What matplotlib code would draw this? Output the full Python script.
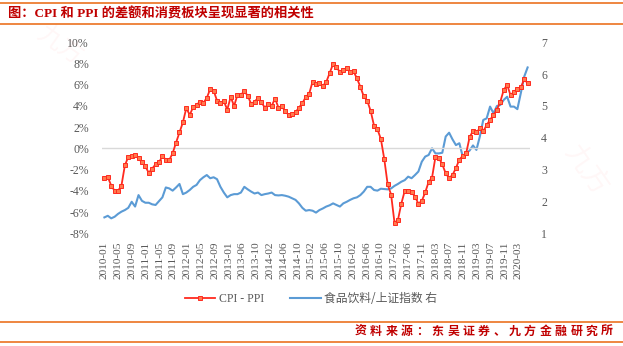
import matplotlib
matplotlib.use("Agg")
import matplotlib.pyplot as plt
import numpy as np
from matplotlib.lines import Line2D

# ---------------- data ----------------
cpi_ppi = [
    -2.8, -2.7, -3.5, -4.0, -4.0, -3.5, -1.6, -0.8, -0.7, -0.6, -0.95, -1.3,
    -1.7, -2.3, -1.9, -1.5, -1.3, -0.75, -1.05, -1.1, -0.45, 0.55, 1.5, 2.45,
    3.8, 3.15, 3.9, 4.1, 4.4, 4.3, 4.75, 5.6, 5.45, 4.5, 4.25, 4.45,
    3.65, 4.85, 4.0, 5.05, 5.05, 5.4, 4.95, 4.2, 4.4, 4.75, 4.35, 3.85,
    4.15, 4.0, 4.7, 3.85, 3.95, 3.5, 3.15, 3.25, 3.4, 3.85, 4.25, 4.85,
    5.15, 6.3, 6.05, 6.15, 5.9, 6.25, 7.1, 7.95, 7.65, 7.2, 7.4, 7.55,
    7.2, 7.25, 6.6, 5.8, 4.9, 4.5, 3.55, 2.15, 1.8, 0.9, -1.0, -3.4,
    -4.35, -7.0, -6.75, -5.2, -4.0, -4.0, -4.1, -4.55, -5.2, -4.95, -4.15, -3.15,
    -2.75, -0.8, -0.9, -1.5, -2.35, -2.8, -2.5, -1.85, -1.05, -0.7, -0.45, 1.05,
    1.65, 1.5, 1.9, 1.6, 2.2, 2.7, 3.15, 3.65, 4.4, 5.5, 6.0, 5.0,
    5.35, 5.6, 5.75, 6.5, 6.15,
]
food_ratio = [
    1.50, 1.55, 1.47, 1.52, 1.61, 1.68, 1.73, 1.80, 1.99, 1.84, 2.20, 2.02,
    1.96, 1.96, 1.91, 1.89, 2.01, 2.13, 2.44, 2.41, 2.34, 2.44, 2.55, 2.23,
    2.28, 2.36, 2.46, 2.52, 2.67, 2.76, 2.83, 2.73, 2.76, 2.70, 2.46, 2.28,
    2.13, 2.20, 2.23, 2.23, 2.28, 2.46, 2.38, 2.31, 2.25, 2.28, 2.20, 2.23,
    2.25, 2.28, 2.20, 2.19, 2.20, 2.18, 2.15, 2.10, 2.05, 1.94, 1.80, 1.71,
    1.73, 1.71, 1.65, 1.73, 1.78, 1.84, 1.88, 1.94, 1.89, 1.84, 1.94, 1.99,
    2.05, 2.10, 2.13, 2.20, 2.31, 2.46, 2.46, 2.36, 2.34, 2.40, 2.39, 2.38,
    2.41, 2.49, 2.55, 2.62, 2.67, 2.78, 2.73, 2.83, 2.94, 3.25, 3.41, 3.46,
    3.67, 3.51, 3.51, 3.53, 4.04, 4.16, 3.95, 3.77, 3.83, 3.41, 3.51, 3.60,
    3.76, 3.62, 4.04, 4.56, 4.61, 4.98, 4.77, 5.00, 5.03, 5.19, 5.29, 4.98,
    4.98, 4.90, 5.40, 5.92, 6.21,
]
tick_labels = [
    "2010-01", "2010-05", "2010-09", "2011-01", "2011-05", "2011-09",
    "2012-01", "2012-05", "2012-09", "2013-01", "2013-06", "2013-10",
    "2014-02", "2014-06", "2014-10", "2015-02", "2015-06", "2015-10",
    "2016-02", "2016-06", "2016-10", "2017-02", "2017-06", "2017-11",
    "2018-03", "2018-07", "2018-11", "2019-03", "2019-07", "2019-11",
    "2020-03",
]
left_ticks = [-8, -6, -4, -2, 0, 2, 4, 6, 8, 10]
right_ticks = [1, 2, 3, 4, 5, 6, 7]

title = "图：CPI 和 PPI 的差额和消费板块呈现显著的相关性"
source = "资料来源：东吴证券、九方金融研究所"
label_red = "CPI - PPI"
label_blue = "食品饮料/上证指数 右"

# ---------------- style ----------------
W, H = 623, 346
fig = plt.figure(figsize=(W / 100, H / 100), dpi=100)
fig.patch.set_facecolor("white")

orange = "#ED7D31"
dark_red = "#C00000"
gray = "#595959"
serif = ["Liberation Serif", "Noto Sans CJK SC"]
cjk = ["Noto Sans CJK SC", "DejaVu Sans"]

# header / footer lines
for yy in (3, 23.5, 322, 342):
    fig.add_artist(plt.Line2D([0.0, 1.0], [1 - yy / H, 1 - yy / H],
                              color=orange, lw=1.3, transform=fig.transFigure))

fig.text(8 / W, 1 - 13.5 / H, title, color=dark_red, fontsize=9.5,
         fontweight="bold", family=["Liberation Serif", "Noto Sans CJK SC"],
         ha="left", va="center")

# source text with letter spacing, right aligned
pitch = 15.4
x_right = 613
for i, ch in enumerate(reversed(source)):
    fig.text((x_right - 6 - i * pitch) / W, 1 - 331.5 / H, ch, color=dark_red,
             fontsize=8.6, fontweight="bold", family=cjk, ha="center", va="center")

# faint watermarks
fig.text(60 / W, 1 - 45 / H, "九方", color="#FF0000", alpha=0.035, fontsize=18,
         rotation=-35, family=cjk, ha="center", va="center")
fig.text(585 / W, 1 - 170 / H, "九方", color="#FF0000", alpha=0.035, fontsize=20,
         rotation=-55, family=cjk, ha="center", va="center")

# axes
x0, x1 = 102, 530
y0, y1 = 42.3, 233.3
ax = fig.add_axes([x0 / W, 1 - y1 / H, (x1 - x0) / W, (y1 - y0) / H])
ax2 = ax.twinx()

n = len(cpi_ppi)
xr = np.arange(n)
xb = np.arange(len(food_ratio))

ax2.plot(xb, food_ratio, color="#5B9BD5", lw=1.5, solid_joinstyle="round")
ax.plot(xr, cpi_ppi, color="#FF2A1F", lw=1.3, marker="s", markersize=2.4,
        markerfacecolor="#FF7A4D", markeredgecolor="#FF2A1F", markeredgewidth=0.7)

ax.set_zorder(ax2.get_zorder() + 1)
ax.patch.set_visible(False)

ax.axhline(0, color="#D9D9D9", lw=1.0, zorder=0)

ax.set_xlim(-0.7, n - 0.3)
ax.set_ylim(-8, 10)
ax2.set_ylim(1, 7)

ax.set_yticks(left_ticks)
ax.set_yticklabels([f"{v}%" for v in left_ticks])
ax2.set_yticks(right_ticks)
ax2.set_yticklabels([str(v) for v in right_ticks])

tick_pos = np.linspace(0, 121.3, len(tick_labels))
ax.set_xticks(tick_pos)
ax.set_xticklabels(tick_labels, rotation=90)

for a in (ax, ax2):
    for s in a.spines.values():
        s.set_visible(False)
    a.tick_params(length=0, colors=gray, labelsize=8.5)
    for lbl in a.get_yticklabels() + a.get_xticklabels():
        lbl.set_family(serif)
        lbl.set_color(gray)
ax.tick_params(axis="y", pad=9.5)
ax2.tick_params(axis="y", pad=8)
ax.tick_params(axis="x", pad=6, labelsize=8.2)

# legend
h1 = Line2D([], [], color="#FF2A1F", lw=1.3, marker="s", markersize=2.4,
            markerfacecolor="#FF7A4D", markeredgecolor="#FF2A1F", markeredgewidth=0.7)
h2 = Line2D([], [], color="#5B9BD5", lw=1.5)
leg = fig.legend([h1, h2], [label_red, label_blue], loc="center",
                 bbox_to_anchor=(311 / W, 1 - 299 / H), ncol=2, frameon=False,
                 handlelength=2.6, handletextpad=0.3, columnspacing=2.2,
                 prop={"family": serif[:1] + ["Noto Sans CJK SC"], "size": 8.5})
for t in leg.get_texts():
    t.set_color(gray)
leg.get_texts()[1].set_family(["Noto Sans CJK SC"])

fig.savefig("out.png", dpi=100)
